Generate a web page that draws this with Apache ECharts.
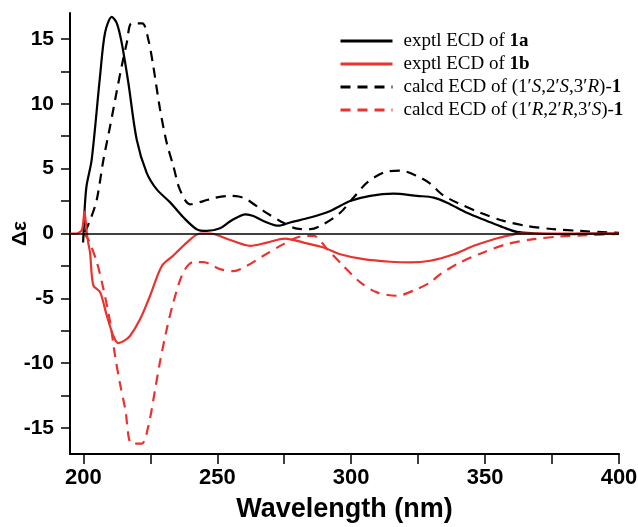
<!DOCTYPE html>
<html>
<head>
<meta charset="utf-8">
<script src="https://cdn.jsdelivr.net/npm/echarts@6/dist/echarts.min.js"></script>
<style>html,body{margin:0;padding:0;background:#fff}#c{width:638px;height:527px}</style>
</head>
<body>
<div id="c"></div>
<script>
// Experimental ECD of 1a (black solid)
const wl1a = [199.9,200.5,201.2,203.1,206.2,208.1,210.6,212.5,214.3,216.8,219.9,223.6,227.4,232.4,237.3,242.3,246,251,255,260.6,263.5,267.2,272.8,277.2,284.7,292.2,299.6,307.1,315.8,324.6,330.8,335.8,343.2,350.7,356.9,361.9,368.1,380,390,400];
const de1a = [-0.7,2.0,3.7,5.7,12.1,15.5,16.7,16.2,14.7,11.6,7.25,4.7,3.4,2.4,1.25,0.33,0.2,0.4,0.97,1.48,1.35,0.97,0.6,0.85,1.23,1.74,2.5,2.9,3.07,2.9,2.77,2.38,1.6,0.97,0.46,0.12,0.02,-0.05,0,0];
// Experimental ECD of 1b (red solid)
const wl1b = [195,197.5,199.5,200.4,201.2,201.8,202.5,203.7,206.2,208.7,211.2,213,215,217.4,221.2,224.9,229.3,233.6,238.6,243.6,247.3,254.8,262.3,268.5,275.3,282.2,289.7,295.9,304.6,314.6,322,329.5,338.3,345.8,353.3,359.5,363.2,380,400];
const de1b = [0,0,0.3,1.7,0.2,-0.7,-1.5,-4.0,-4.5,-6.3,-7.9,-8.45,-8.3,-7.9,-6.6,-4.8,-2.5,-1.7,-0.7,0,0,-0.5,-0.95,-0.7,-0.39,-0.7,-1.08,-1.6,-1.98,-2.18,-2.23,-2.1,-1.6,-0.95,-0.44,-0.13,0,0,0];
// Calculated ECD of (1'S,2'S,3'R)-1 (black dashed)
const wlS = [200.6,203,205,207.5,210,212.4,214.3,216.2,218,222,224.3,226.1,228.6,231.1,233.6,236,239.8,244.8,249,254.8,258,261,267.2,273.4,279.7,284.7,289.7,295.9,300.9,305.9,312.1,318.3,324.6,329.5,334,339.5,348.2,356.9,365.6,375.6,385.6,395.6,400];
const deS = [0.1,1.3,2.6,5.7,8.3,10.9,12.9,14.7,16.2,16.2,14.9,12.9,9.6,7.0,5.2,3.4,2.25,2.5,2.75,2.9,2.85,2.64,1.74,0.97,0.38,0.33,0.72,1.6,2.77,3.92,4.7,4.85,4.43,3.85,3.0,2.38,1.6,0.97,0.58,0.33,0.2,0.08,0.05];
// Calculated ECD of (1'R,2'R,3'S)-1 (red dashed)
const wlR = [200,201.8,205,207.5,210,211.8,213.6,215.6,218,221.8,224.3,226.8,228.6,231.1,233.6,237.3,241.1,244.8,251,256,261,267.2,274.7,281,286,291,297.1,303.4,309.6,317.1,324.6,329.5,333.3,340.7,349.4,358.1,368.1,378.1,388.1,398.1,400];
const deR = [0,-0.45,-2.2,-4.3,-6.85,-9.4,-11.5,-13.5,-16.2,-16.2,-14.8,-12,-9.9,-7.4,-5.3,-3.0,-2.2,-2.2,-2.75,-2.9,-2.5,-1.72,-0.82,-0.23,-0.18,-1.2,-2.5,-3.77,-4.54,-4.8,-4.28,-3.77,-3.13,-2.23,-1.46,-0.82,-0.44,-0.23,-0.13,-0.05,-0.04];

const seriesNames = ['exptl ECD of {b|1a}','exptl ECD of {b|1b}','calcd ECD of (1′{i|S},2′{i|S},3′{i|R})-{b|1}','calcd ECD of (1′{i|R},2′{i|R},3′{i|S})-{b|1}'];
const xTicks = [200,250,300,350,400];
const yTicks = [-15,-10,-5,0,5,10,15];

const zip = (a,b) => a.map((x,i)=>[x,b[i]]);
const RED = '#e8332e';
const chart = echarts.init(document.getElementById('c'), null, {renderer:'canvas'});
const mk = (name, data, color, dashed, extra) => Object.assign({
  name, type:'line', data, symbol:'none', smooth:0.3, z: dashed?2:3,
  lineStyle:{color, width:2.2, type: dashed?[10,7]:'solid'},
  itemStyle:{color}
}, extra||{});
const LF = 'Liberation Serif', LS = 19;
chart.setOption({
  animation:false,
  grid:{left:70,right:19,top:13,bottom:73, outerBoundsMode:'none', containLabel:false},
  legend:{
    show:true,
    orient:'vertical', left:334, top:25, itemWidth:52, itemHeight:14, itemGap:1,
    data: seriesNames,
    itemStyle:{opacity:0},
    lineStyle:{width:3},
    textStyle:{fontFamily:LF, fontSize:LS, color:'#000', lineHeight:22, padding:[0,0,0,6],
      rich:{ b:{fontFamily:LF, fontSize:LS, fontWeight:'bold', color:'#000', lineHeight:22},
             i:{fontFamily:LF, fontSize:LS, fontStyle:'italic', color:'#000', lineHeight:22} } }
  },
  xAxis:{
    type:'value', min:195, max:400, interval:25,
    name:'Wavelength (nm)', nameLocation:'middle', nameGap:42, nameMoveOverlap:false,
    nameTextStyle:{fontFamily:'Liberation Sans', fontSize:27, fontWeight:'bold', color:'#000'},
    axisLine:{onZero:false, lineStyle:{color:'#000', width:2}},
    axisTick:{inside:false, length:10, lineStyle:{width:1.5,color:'#000'}, customValues:[200,225,250,275,300,325,350,375,400]},
    axisLabel:{fontFamily:'Liberation Sans', fontSize:22, fontWeight:'bold', color:'#000', margin:13,
      customValues: xTicks},
    splitLine:{show:false}
  },
  yAxis:{
    type:'value', min:-17, max:17,
    name:'Δε', nameLocation:'middle', nameGap:39, nameRotate:90, nameMoveOverlap:false,
    nameTextStyle:{fontFamily:'Liberation Sans', fontSize:21, fontWeight:'bold', color:'#000'},
    axisLine:{onZero:false, lineStyle:{color:'#000', width:2}},
    axisTick:{length:9, lineStyle:{width:1.5,color:'#000'}, customValues:[-15,-12.5,-10,-7.5,-5,-2.5,0,2.5,5,7.5,10,12.5,15]},
    axisLabel:{fontFamily:'Liberation Sans', fontSize:21, fontWeight:'bold', color:'#000', margin:16,
      customValues: yTicks},
    splitLine:{show:false}
  },
  series:[
    mk(seriesNames[0], zip(wl1a,de1a), '#000', false, {
      markLine:{silent:true, symbol:'none', label:{show:false}, lineStyle:{color:'#000', width:1.5, type:'solid'}, data:[{yAxis:0}]}
    }),
    mk(seriesNames[1], zip(wl1b,de1b), RED, false),
    mk(seriesNames[2], zip(wlS,deS), '#000', true),
    mk(seriesNames[3], zip(wlR,deR), RED, true)
  ]
});
</script>
</body>
</html>
